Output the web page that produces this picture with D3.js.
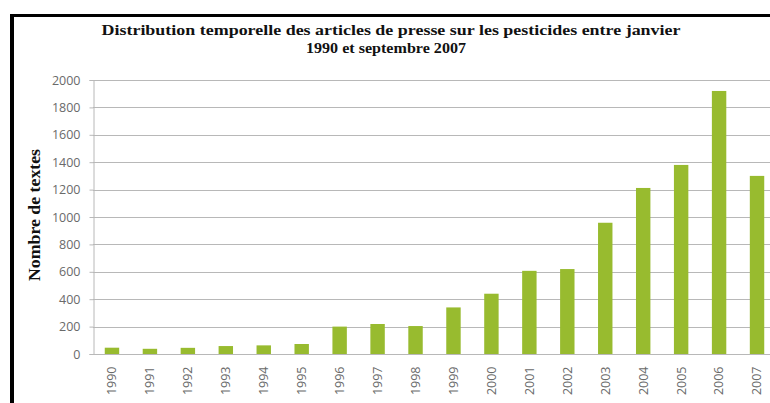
<!DOCTYPE html>
<html><head><meta charset="utf-8">
<script src="https://cdn.jsdelivr.net/npm/d3@7"></script>
<style>html,body{margin:0;padding:0;background:#fff;}svg{display:block;}</style>
</head><body>
<svg id="c" width="770" height="403"></svg>
<script>
const years = ["1990","1991","1992","1993","1994","1995","1996","1997","1998","1999","2000","2001","2002","2003","2004","2005","2006","2007"];
const counts = [46,38,45,58,63,73,200,219,204,340,440,607,620,958,1212,1380,1920,1300];
const yTicks = [0,200,400,600,800,1000,1200,1400,1600,1800,2000];
const titleLines = ["Distribution temporelle des articles de presse sur les pesticides entre janvier","1990 et septembre 2007"];
const yLabel = "Nombre de textes";

const svg = d3.select("#c");
const m = {left:93, right:776, top:80, bottom:354};
const x = d3.scaleBand().domain(years).range([m.left, m.right]).paddingInner(0.62).paddingOuter(0.31);
const y = d3.scaleLinear().domain([0,2000]).range([m.bottom, m.top]);

// frame
svg.append("rect").attr("x",10).attr("y",14).attr("width",770).attr("height",3).attr("fill","#000");
svg.append("rect").attr("x",10).attr("y",14).attr("width",4).attr("height",400).attr("fill","#000");

// title
svg.append("text").attr("x",391).attr("y",35).attr("text-anchor","middle")
  .attr("font-family","Liberation Serif").attr("font-weight","bold").attr("font-size",15)
  .attr("textLength",579).attr("lengthAdjust","spacingAndGlyphs").attr("fill","#111").text(titleLines[0]);
svg.append("text").attr("x",386).attr("y",53).attr("text-anchor","middle")
  .attr("font-family","Liberation Serif").attr("font-weight","bold").attr("font-size",15)
  .attr("textLength",160).attr("lengthAdjust","spacingAndGlyphs").attr("fill","#111").text(titleLines[1]);

// gridlines
svg.append("g").selectAll("line").data(yTicks.filter(d=>d>0)).join("line")
  .attr("x1",m.left).attr("x2",770).attr("y1",d=>Math.round(y(d))+0.5).attr("y2",d=>Math.round(y(d))+0.5)
  .attr("stroke","#b8b8b8").attr("stroke-width",1.2);

// y axis
const ya = svg.append("g").attr("transform",`translate(${m.left+0.5},0)`)
  .call(d3.axisLeft(y).tickValues(yTicks).tickFormat(d3.format("d")).tickSize(4).tickPadding(9));
ya.select(".domain").attr("stroke","#b8b8b8");
ya.selectAll(".tick line").attr("stroke","#b8b8b8");
ya.selectAll("text").attr("font-family","Open Sans").attr("font-size",12.5).attr("fill","#6a6a6a");

// bars
svg.append("g").selectAll("rect").data(years).join("rect")
  .attr("x",(d)=>x(d)).attr("width",x.bandwidth())
  .attr("y",(d,i)=>y(counts[i])).attr("height",(d,i)=>y(0)-y(counts[i]))
  .attr("fill","#98bb2f");

// x axis
const xa = svg.append("g").attr("transform",`translate(0,${m.bottom+0.5})`)
  .call(d3.axisBottom(x).tickSize(0).tickPadding(0));
xa.select(".domain").attr("stroke","#b8b8b8").attr("d",`M${m.left},0H770`);
xa.selectAll("text").attr("font-family","Open Sans").attr("font-size",12.5).attr("fill","#6a6a6a")
  .attr("transform","rotate(-90)").attr("text-anchor","end").attr("dy","0.35em").attr("x",-12).attr("y",0);

// y label
svg.append("text").attr("transform","translate(40,215) rotate(-90)").attr("text-anchor","middle")
  .attr("font-family","Liberation Serif").attr("font-weight","bold").attr("font-size",16)
  .attr("textLength",132).attr("lengthAdjust","spacingAndGlyphs")
  .attr("fill","#111").text(yLabel);
</script>
</body></html>
